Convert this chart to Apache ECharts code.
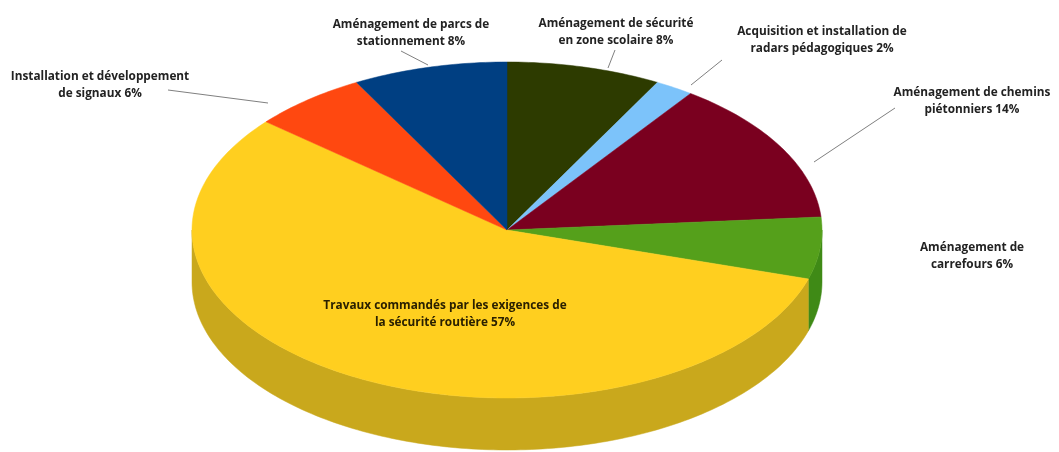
<!DOCTYPE html>
<html>
<head>
<meta charset="utf-8">
<style>html,body{margin:0;padding:0;background:#fff}#chart{width:1059px;height:452px}</style>
<script src="https://cdn.jsdelivr.net/npm/echarts@6/dist/echarts.min.js"></script>
</head>
<body>
<div id="chart"></div>
<script>
// Répartition des travaux de sécurité routière, en pourcentage
const categories = [
  "Aménagement de sécurité\nen zone scolaire",
  "Acquisition et installation de\nradars pédagogiques",
  "Aménagement de chemins\npiétonniers",
  "Aménagement de\ncarrefours",
  "Travaux commandés par les exigences de\nla sécurité routière",
  "Installation et développement\nde signaux",
  "Aménagement de parcs de\nstationnement"
];
const shares = [8, 2, 14, 6, 57, 6, 8];

const topColors  = ["#2d3b00", "#7cc3fa", "#7a001f", "#55a01b", "#ffcf1f", "#ff4810", "#003f82"];
const wallColors = ["#232e00", "#6199c4", "#5f0018", "#3f8a16", "#c9a81c", "#c7380c", "#003166"];

// Placement of the captions: centre x, first line y, optional leader line
const captionPlacement = [
  { x: 616, y: 24, leader: [615, 50, 608, 68] },
  { x: 822, y: 32, leader: [722, 60, 691, 85] },
  { x: 972, y: 93, leader: [895, 108, 814, 162] },
  { x: 972, y: 248 },
  { x: 445, y: 306, fill: "#2a2000" },
  { x: 100, y: 77, leader: [168, 90, 268, 103] },
  { x: 411, y: 25, leader: [401, 51, 428, 65] }
];

const cx = 507, cy = 230, rx = 315, ry = 168, depth = 52;
const total = shares.reduce((a, b) => a + b, 0);
const step = Math.PI / 180;

// Angles run clockwise from the top of the disc
function rim(angle, drop) {
  return [cx + rx * Math.sin(angle), cy - ry * Math.cos(angle) + (drop || 0)];
}
function arc(a0, a1, drop) {
  const pts = [];
  const n = Math.max(2, Math.ceil((a1 - a0) / step));
  for (let k = 0; k <= n; k++) pts.push(rim(a0 + (a1 - a0) * k / n, drop));
  return pts;
}

function renderSlice(params, api) {
  const i = api.value(0);
  let before = 0;
  for (let k = 0; k < i; k++) before += shares[k];
  const a0 = before / total * 2 * Math.PI;
  const a1 = (before + api.value(1)) / total * 2 * Math.PI;
  const children = [];

  // Front wall: only the part of the rim facing the viewer
  const w0 = Math.max(a0, Math.PI / 2), w1 = Math.min(a1, 3 * Math.PI / 2);
  if (w1 > w0) {
    children.push({
      type: "polygon",
      z2: 1,
      shape: { points: arc(w0, w1, 0).concat(arc(w0, w1, depth).reverse()) },
      style: { fill: wallColors[i], stroke: wallColors[i], lineWidth: 0.5 }
    });
  }

  // Top face
  children.push({
    type: "polygon",
    z2: 2,
    shape: { points: [[cx, cy]].concat(arc(a0, a1, 0)) },
    style: { fill: topColors[i], stroke: topColors[i], lineWidth: 0.5 }
  });

  const place = captionPlacement[i];
  if (place.leader) {
    const l = place.leader;
    children.push({
      type: "line",
      z2: 3,
      shape: { x1: l[0], y1: l[1], x2: l[2], y2: l[3] },
      style: { stroke: "#808080", lineWidth: 1 }
    });
  }
  children.push({
    type: "text",
    z2: 4,
    x: place.x,
    y: place.y - 9,
    style: {
      text: categories[i] + " " + api.value(1) + "%",
      fill: place.fill || "#222222",
      font: "bold 11.8px 'Open Sans'",
      align: "center",
      verticalAlign: "top",
      lineHeight: 17
    }
  });
  return { type: "group", children };
}

const chart = echarts.init(document.getElementById("chart"), null, { renderer: "canvas" });
chart.setOption({
  animation: false,
  backgroundColor: "#ffffff",
  series: [{
    type: "custom",
    coordinateSystem: "none",
    silent: true,
    data: shares.map((v, i) => [i, v]),
    renderItem: renderSlice
  }]
});
</script>
</body>
</html>
